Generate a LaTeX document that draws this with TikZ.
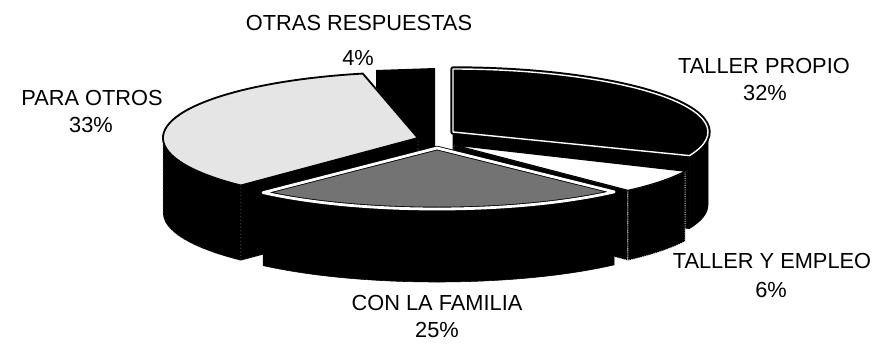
\documentclass[tikz,border=0pt]{standalone}
\usepackage{fontspec}
\setmainfont{Liberation Sans}
\usetikzlibrary{calc}
\tikzset{
  lbl/.style={font=\fontsize{15.5}{18}\selectfont, inner sep=0pt, anchor=base},
  sideface/.style={fill=black, draw=black, line join=round},
  dotside/.style={fill=black, draw=white!85!black, densely dotted, line width=0.6pt},
  faintside/.style={fill=black, draw=white!50!black, dotted, line width=0.5pt},
  propiotop/.style={fill=black, draw=black, line width=1.4pt, double=white, double distance=1pt, line join=round},
  familiatop/.style={fill=black!55, draw=black, line width=0.6pt, double=white, double distance=2pt, line join=round},
  otrostop/.style={fill=black!10, draw=black, line width=1.3pt, line join=round},
  empleotop/.style={fill=white, draw=black, line width=0.8pt, line join=round},
}
\begin{document}
\begin{tikzpicture}[x=0.025cm, y=0.025cm]
\useasboundingbox (0,0) rectangle (880,345);
%Slice centres
\coordinate (otras) at (376,195);
\coordinate (propio) at (453,213);
\coordinate (otros) at (418,207);
\coordinate (empleo) at (454,200);
\coordinate (familia) at (437,197);

%OTRAS RESPUESTAS, only its cut face shows
\fill[black] (otras) -- ++(0,80) -- ++(59,2) -- ++(0,-82) -- cycle;

%TALLER PROPIO
\filldraw[sideface] ($(propio)+(-22:255 and 63)$) arc[start angle=-22, end angle=0, x radius=255, y radius=63] -- ++(0,-73) arc[start angle=0, end angle=-22, x radius=255, y radius=63] -- cycle;
\filldraw[sideface] (propio) -- ($(propio)+(-22:255 and 63)$) -- ++(0,-73) -- ($(propio)+(0,-73)$) -- cycle;
\filldraw[propiotop] (propio) -- ($(propio)+(-22:255 and 63)$) arc[start angle=-22, end angle=90, x radius=255, y radius=63] -- cycle;

%PARA OTROS
\filldraw[faintside] ($(otros)+(180:255 and 66)$) arc[start angle=180, end angle=226, x radius=255, y radius=66] -- ++(0,-75) arc[start angle=226, end angle=180, x radius=255, y radius=66] -- cycle;
\filldraw[faintside] (otros) -- ($(otros)+(226:255 and 66)$) -- ++(0,-75) -- ($(otros)+(0,-75)$) -- cycle;
\filldraw[otrostop] (otros) -- ($(otros)+(102.5:255 and 66)$) arc[start angle=102.5, end angle=226, x radius=255, y radius=66] -- cycle;

%TALLER Y EMPLEO
\filldraw[dotside] (empleo) -- ($(empleo)+(-47:255 and 62)$) -- ++(0,-70) -- ($(empleo)+(0,-70)$) -- cycle;
\filldraw[dotside] ($(empleo)+(-47:255 and 62)$) arc[start angle=-47, end angle=-25, x radius=255, y radius=62] -- ++(0,-70) arc[start angle=-25, end angle=-47, x radius=255, y radius=62] -- cycle;
\filldraw[empleotop] (empleo) -- ($(empleo)+(-47:255 and 62)$) arc[start angle=-47, end angle=-25, x radius=255, y radius=62] -- cycle;

%CON LA FAMILIA
\filldraw[sideface] ($(familia)+(-133:255 and 61)$) arc[start angle=-133, end angle=-46, x radius=255, y radius=61] -- ++(0,-73) arc[start angle=-46, end angle=-133, x radius=255, y radius=61] -- cycle;
\filldraw[familiatop] (familia) -- ($(familia)+(-133:255 and 61)$) arc[start angle=-133, end angle=-46, x radius=255, y radius=61] -- cycle;

%Labels
\node[lbl] (otrasname) at (359,315) {OTRAS RESPUESTAS};
\node[lbl] (otraspct) at (358,280) {4\%};
\node[lbl] (propioname) at (764,272) {TALLER PROPIO};
\node[lbl] (propiopct) at (765,245) {32\%};
\node[lbl] (otrosname) at (92,240) {PARA OTROS};
\node[lbl] (otrospct) at (91,213) {33\%};
\node[lbl] (empleoname) at (772,77) {TALLER Y EMPLEO};
\node[lbl] (empleopct) at (771,48) {6\%};
\node[lbl] (familianame) at (437,35) {CON LA FAMILIA};
\node[lbl] (familiapct) at (437,8) {25\%};
\end{tikzpicture}
\end{document}
